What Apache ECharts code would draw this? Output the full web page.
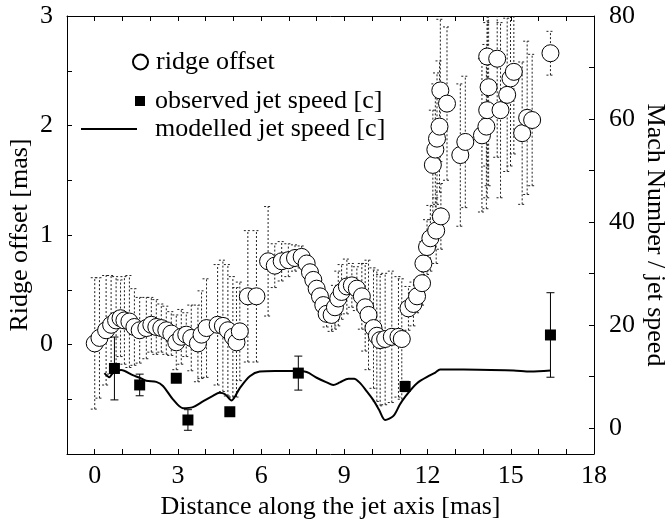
<!DOCTYPE html>
<html>
<head>
<meta charset="utf-8">
<script src="https://cdn.jsdelivr.net/npm/echarts@6/dist/echarts.min.js"></script>
<style>
html, body { margin: 0; background: #fff; }
#chart { width: 669px; height: 524px; }
</style>
</head>
<body>
<div id="chart"></div>
<script>
// ridge offset [mas] along the jet, with its (symmetric) error
const ridgeX = [0.00,0.17,0.41,0.59,0.77,0.93,1.07,1.25,1.43,1.62,1.86,2.04,2.22,2.40,2.58,2.76,2.94,3.12,3.30,3.48,
  3.72,3.85,4.03,4.43,4.62,4.80,4.98,5.11,5.23,5.52,5.83,6.25,6.49,6.74,6.98,7.22,7.46,7.64,7.76,7.88,
  8.00,8.12,8.24,8.36,8.54,8.66,8.78,8.90,9.09,9.27,9.45,9.63,9.75,9.87,10.05,10.17,10.29,10.47,10.71,10.95,
  11.07,11.31,11.49,11.62,11.80,11.85,11.98,12.10,12.31,12.48,12.19,12.28,12.34,12.43,12.46,12.70,13.18,13.36,13.96,14.12,
  14.15,14.20,14.15,14.51,14.63,14.87,14.99,15.11,15.41,15.59,15.77,16.43]
const ridgeY = [0.01,0.06,0.13,0.18,0.22,0.24,0.22,0.21,0.16,0.13,0.15,0.18,0.16,0.15,0.13,0.10,0.02,0.07,0.09,0.06,
  0.01,0.09,0.15,0.18,0.17,0.13,0.07,0.02,0.12,0.44,0.44,0.76,0.72,0.76,0.77,0.79,0.80,0.74,0.66,0.59,
  0.51,0.44,0.36,0.28,0.27,0.34,0.42,0.48,0.53,0.54,0.51,0.44,0.34,0.27,0.15,0.08,0.04,0.05,0.07,0.07,
  0.05,0.33,0.37,0.44,0.56,0.74,0.89,0.97,1.04,1.17,1.64,1.78,1.88,1.99,2.32,2.20,1.73,1.85,1.91,1.99,
  2.14,2.35,2.63,2.61,2.14,2.28,2.43,2.49,1.93,2.07,2.05,2.66]
const ridgeErr = [0.6,0.55,0.5,0.45,0.4,0.35,0.4,0.42,0.35,0.3,0.28,0.25,0.25,0.22,0.22,0.2,0.25,0.25,0.2,0.3,
  0.35,0.4,0.45,0.55,0.6,0.6,0.55,0.5,0.45,0.6,0.6,0.5,0.2,0.18,0.15,0.12,0.1,0.1,0.1,0.12,
  0.12,0.12,0.1,0.12,0.15,0.2,0.25,0.25,0.25,0.2,0.2,0.3,0.4,0.5,0.55,0.6,0.6,0.6,0.6,0.55,
  0.55,0.2,0.2,0.15,0.2,0.2,0.25,0.3,0.3,0.3,0.5,0.6,0.6,0.6,0.65,0.7,0.65,0.6,0.7,0.75,
  0.8,0.9,1.0,0.9,0.8,0.7,0.8,0.75,0.65,0.7,0.6,0.2]

// observed jet speed [c]
const obsX = [0.71, 1.62, 2.94, 3.36, 4.87, 7.34, 11.19, 16.43]
const obsV = [11.6, 8.4, 9.7, 1.6, 3.2, 10.7, 8.1, 18.1]
const obsErr = [6.1, 2.1, 0.8, 2.0, 0.8, 3.3, 1.0, 8.2]

// modelled jet speed [c]
const modelX = [0.35,0.53,0.65,0.95,1.37,1.62,1.86,2.22,2.46,2.82,3.18,3.54,3.90,4.26,4.50,4.70,4.93,5.23,5.59,5.95,
  6.50,7.20,7.64,8.00,8.36,8.60,8.84,9.15,9.35,9.56,9.80,10.05,10.25,10.47,10.77,11.00,11.19,11.61,12.10,12.28,
  12.45,13.30,15.10,15.71,16.43]
const modelV = [10.7,9.9,10.7,11.3,10.3,9.8,9.2,9.0,8.2,5.6,3.9,4.1,5.2,6.3,6.9,6.6,5.4,7.8,10.1,11.0,
  11.1,11.1,10.9,9.8,8.9,8.4,8.9,9.6,9.6,8.8,7.2,5.4,3.6,1.6,2.4,4.6,6.1,8.7,10.3,10.8,
  11.4,11.4,11.2,11.0,11.2]

const xTicks = [0, 3, 6, 9, 12, 15, 18]
const rightLabels = [0, 20, 40, 60, 80]
const rightTicks = [0, 10, 20, 30, 40, 50, 60, 70, 80]

const font = 'Liberation Serif'
const fontSize = 26
const chart = echarts.init(document.getElementById('chart'))

function errorBar(cap, dash, width, color) {
  return function (params, api) {
    const x = api.value(0)
    const lo = api.coord([x, api.value(1)])
    const hi = api.coord([x, api.value(2)])
    const style = { stroke: color, lineWidth: width, lineDash: dash, fill: null }
    return {
      type: 'group',
      children: [
        { type: 'line', shape: { x1: lo[0], y1: lo[1], x2: hi[0], y2: hi[1] }, style: style },
        { type: 'line', shape: { x1: lo[0] - cap, y1: lo[1], x2: lo[0] + cap, y2: lo[1] }, style: style },
        { type: 'line', shape: { x1: hi[0] - cap, y1: hi[1], x2: hi[0] + cap, y2: hi[1] }, style: style }
      ]
    }
  }
}

const black = { color: '#000', width: 1 }
const txt = { color: '#000', fontFamily: font, fontSize: fontSize }

chart.setOption({
  animation: false,
  textStyle: { fontFamily: font },
  grid: { left: 67, right: 75, top: 16, bottom: 70, outerBoundsMode: 'none' },
  legend: [
    { data: [{ name: 'ridge offset', icon: 'circle' }], left: 132, top: 49, padding: 0,
      itemWidth: 15, itemHeight: 15,
      textStyle: Object.assign({ padding: [0, 0, 0, 3] }, txt) },
    { data: [{ name: 'observed jet speed [c]', icon: 'rect' }], left: 135, top: 88, padding: 0,
      itemWidth: 10, itemHeight: 10,
      textStyle: Object.assign({ padding: [0, 0, 0, 5] }, txt) },
    { data: [{ name: 'modelled jet speed [c]', icon: 'rect' }], left: 81, top: 116, padding: 0,
      itemWidth: 56, itemHeight: 2,
      textStyle: Object.assign({ padding: [0, 0, 0, 13] }, txt) }
  ],
  xAxis: [
    {
      type: 'value', min: -1, max: 18, interval: 1,
      name: 'Distance along the jet axis [mas]', nameLocation: 'middle', nameGap: 40,
      nameMoveOverlap: false,
      nameTextStyle: txt,
      axisLine: { onZero: false, lineStyle: black },
      axisTick: { inside: true, length: 5, lineStyle: black },
      axisLabel: Object.assign({ margin: 9, customValues: xTicks }, txt),
      splitLine: { show: false }
    },
    {
      type: 'value', position: 'top', min: -1, max: 18, interval: 1,
      axisLine: { onZero: false, lineStyle: black },
      axisTick: { inside: true, length: 5, lineStyle: black },
      axisLabel: { show: false },
      splitLine: { show: false }
    }
  ],
  yAxis: [
    {
      type: 'value', min: -1, max: 3, interval: 1,
      name: 'Ridge offset [mas]', nameLocation: 'middle', nameGap: 34,
      nameMoveOverlap: false,
      nameTextStyle: txt,
      axisLine: { onZero: false, lineStyle: black },
      axisTick: { inside: true, length: 5, lineStyle: black },
      minorTick: { show: true, splitNumber: 2, length: 5, lineStyle: black },
      axisLabel: Object.assign({ margin: 14, showMinLabel: false }, txt),
      splitLine: { show: false }
    },
    {
      type: 'value', position: 'right', min: -5, max: 80, interval: 5,
      name: 'Mach Number / jet speed', nameLocation: 'middle', nameGap: 48, nameRotate: -90,
      nameMoveOverlap: false,
      nameTextStyle: txt,
      axisLine: { onZero: false, lineStyle: black },
      axisTick: { inside: true, length: 5, lineStyle: black, customValues: rightTicks },
      axisLabel: Object.assign({ margin: 15, customValues: rightLabels }, txt),
      splitLine: { show: false }
    }
  ],
  series: [
    {
      name: 'ridge error', type: 'custom', clip: true, z: 1,
      renderItem: errorBar(4, [2, 2], 1, '#222'),
      encode: { x: 0, y: [1, 2] },
      data: ridgeX.map((x, i) => [x, ridgeY[i] - ridgeErr[i], ridgeY[i] + ridgeErr[i]])
    },
    {
      name: 'modelled jet speed [c]', type: 'line', yAxisIndex: 1, z: 3,
      symbol: 'none', smooth: 0.3,
      lineStyle: { color: '#000', width: 2 },
      itemStyle: { color: '#000' },
      data: modelX.map((x, i) => [x, modelV[i]])
    },
    {
      name: 'ridge offset', type: 'scatter', z: 4,
      symbol: 'circle', symbolSize: 17,
      itemStyle: { color: '#fff', borderColor: '#000', borderWidth: 1, opacity: 1 },
      data: ridgeX.map((x, i) => [x, ridgeY[i]])
    },
    {
      name: 'speed error', type: 'custom', yAxisIndex: 1, clip: true, z: 5,
      renderItem: errorBar(4, null, 1, '#000'),
      encode: { x: 0, y: [1, 2] },
      data: obsX.map((x, i) => [x, obsV[i] - obsErr[i], obsV[i] + obsErr[i]])
    },
    {
      name: 'observed jet speed [c]', type: 'scatter', yAxisIndex: 1, z: 6,
      symbol: 'rect', symbolSize: 11,
      itemStyle: { color: '#000', opacity: 1 },
      data: obsX.map((x, i) => [x, obsV[i]])
    }
  ]
})
</script>
</body>
</html>
